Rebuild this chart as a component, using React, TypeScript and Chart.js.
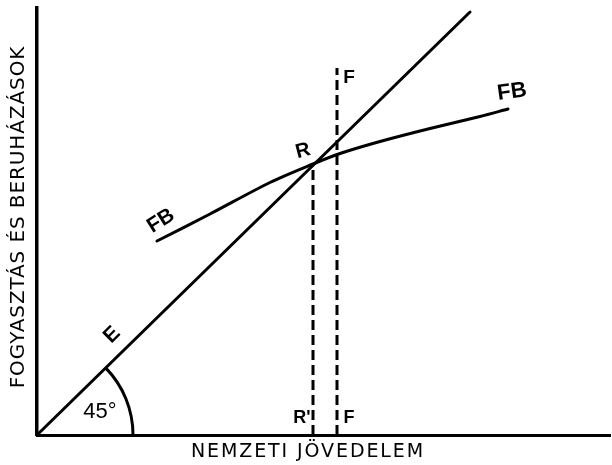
import React, { useEffect, useRef } from "react";
import { Chart, registerables } from "chart.js";

Chart.register(...registerables);

// Data units: national income (x) vs consumption + investment (y)
const xMax = 114.6;
const yMax = 85.4;

const lineEX = [0, 86.6];
const lineEY = [0, 84.6];

const fbX = [24, 34.6, 46.6, 55.2, 60.6, 68.6, 78.6, 88.6, 94.2];
const fbY = [38.8, 44.2, 50.5, 54.2, 56.3, 58.7, 61.3, 63.7, 65.2];

const rX = 55.2;
const rY = 54.2;
const fX = 60.0;
const fTop = 73.4;

const arcRadius = 19.2;

const labelTexts = ["F", "FB", "R", "FB", "E", "45°", "R'", "F"];
const labelX = [62.4, 95.0, 53.2, 24.8, 15.0, 12.6, 53.0, 62.4];
const labelY = [71.4, 68.6, 56.8, 42.8, 20.0, 4.6, 3.4, 3.4];
const labelRot = [0, -8, -15, -32, -45, 0, 0, 0];
const labelSize = [19, 22, 20, 21, 21, 22, 18, 18];
const labelBold = [true, true, true, true, true, false, true, true];

const xTitle = "NEMZETI JÖVEDELEM";
const yTitle = "FOGYASZTÁS ÉS BERUHÁZÁSOK";
const xTitlePos = [54.2, -3.4];
const yTitlePos = [-3.7, 43.6];

const pts = (xs: number[], ys: number[]) => xs.map((x, i) => ({ x, y: ys[i] }));

export default function App() {
  const ref = useRef<HTMLCanvasElement | null>(null);

  useEffect(() => {
    if (!ref.current) return;
    const overlay = {
      id: "overlay",
      afterDatasetsDraw(chart: any) {
        const ctx = chart.ctx as CanvasRenderingContext2D;
        const xs = chart.scales.x;
        const ys = chart.scales.y;
        // 45° arc
        const ox = xs.getPixelForValue(0);
        const oy = ys.getPixelForValue(0);
        const ex = xs.getPixelForValue(lineEX[1]);
        const ey = ys.getPixelForValue(lineEY[1]);
        const ang = Math.atan2(ey - oy, ex - ox);
        const r = xs.getPixelForValue(arcRadius) - ox;
        ctx.save();
        ctx.strokeStyle = "#000";
        ctx.lineWidth = 3;
        ctx.beginPath();
        ctx.arc(ox, oy, r, ang, 0);
        ctx.stroke();
        ctx.restore();

        const draw = (t: string, x: number, y: number, rot: number, font: string, spacing: string) => {
          ctx.save();
          ctx.translate(xs.getPixelForValue(x), ys.getPixelForValue(y));
          ctx.rotate((rot * Math.PI) / 180);
          ctx.font = font;
          (ctx as any).letterSpacing = spacing;
          ctx.fillStyle = "#000";
          ctx.textAlign = "center";
          ctx.textBaseline = "middle";
          ctx.fillText(t, 0, 0);
          ctx.restore();
        };
        labelTexts.forEach((t, i) => {
          draw(
            t,
            labelX[i],
            labelY[i],
            labelRot[i],
            `${labelBold[i] ? "bold " : ""}${labelSize[i]}px "Liberation Sans", Arial, sans-serif`,
            "0px"
          );
        });
        draw(xTitle, xTitlePos[0], xTitlePos[1], 0, `19px "DejaVu Sans", sans-serif`, "1.9px");
        draw(yTitle, yTitlePos[0], yTitlePos[1], -90, `20px "DejaVu Sans", sans-serif`, "0.9px");
      },
    };

    const chart = new Chart(ref.current, {
      type: "scatter",
      data: {
        datasets: [
          {
            data: pts(lineEX, lineEY),
            showLine: true,
            borderColor: "#000",
            borderWidth: 3,
            pointRadius: 0,
            borderCapStyle: "round",
            clip: false,
          } as any,
          {
            data: pts(fbX, fbY),
            showLine: true,
            borderColor: "#000",
            borderWidth: 3,
            pointRadius: 0,
            tension: 0.3,
            borderCapStyle: "round",
            clip: false,
          } as any,
          {
            data: pts([rX, rX], [0, rY]),
            showLine: true,
            borderColor: "#000",
            borderWidth: 3,
            pointRadius: 0,
            borderDash: [10, 5],
            clip: false,
          } as any,
          {
            data: pts([fX, fX], [0, fTop]),
            showLine: true,
            borderColor: "#000",
            borderWidth: 3,
            pointRadius: 0,
            borderDash: [10, 5],
            clip: false,
          } as any,
        ],
      },
      options: {
        animation: false,
        responsive: true,
        maintainAspectRatio: false,
        events: [],
        layout: { padding: { left: 37, right: 2, top: 8, bottom: 30 } },
        plugins: { legend: { display: false }, tooltip: { enabled: false } },
        scales: {
          x: {
            type: "linear",
            min: 0,
            max: xMax,
            grid: { display: false, drawTicks: false },
            ticks: { display: false },
            border: { display: true, color: "#000", width: 3 },
          },
          y: {
            type: "linear",
            min: 0,
            max: yMax,
            grid: { display: false, drawTicks: false },
            ticks: { display: false },
            border: { display: true, color: "#000", width: 3.5 },
          },
        },
      } as any,
      plugins: [overlay],
    });
    return () => chart.destroy();
  }, []);

  return (
    <div style={{ position: "absolute", left: 0, top: 0, width: 612, height: 465, background: "#fff" }}>
      <canvas ref={ref} />
    </div>
  );
}
